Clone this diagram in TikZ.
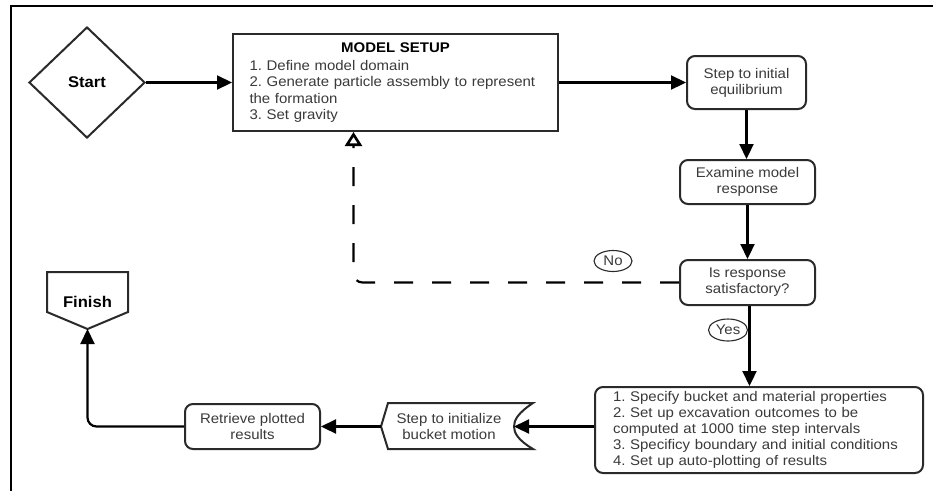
\documentclass[tikz,border=0pt]{standalone}
\usepackage{fontspec}
\setmainfont{Liberation Sans}[FakeStretch=1.07]
\usetikzlibrary{arrows.meta,shapes.geometric}
\definecolor{txtgrey}{HTML}{3A3A3A}
\definecolor{edge}{HTML}{2A2A2A}
\frenchspacing
\begin{document}
\begin{tikzpicture}[x=1pt,y=-1pt,
 every node/.style={font=\fontsize{14}{16}\selectfont},
 box/.style={draw=edge, line width=2pt, rounded corners=8pt, text=txtgrey, align=center, inner sep=0pt},
 plainbox/.style={draw=edge, line width=2pt, text=txtgrey, inner sep=0pt},
 conn/.style={line width=2.2pt, -{Triangle[length=15pt,width=14pt]}},
 tag/.style={draw=edge, ellipse, line width=1.1pt, text=txtgrey, minimum width=38pt, minimum height=21pt, inner sep=0pt},
 shapeline/.style={draw=edge, line width=2pt, line join=miter},
 boldlabel/.style={inner sep=0pt, font=\fontsize{15.5}{17}\selectfont\bfseries}
]
\useasboundingbox (0,0) rectangle (933,491);
\fill[white] (0,0) rectangle (933,491);
% frame
\draw[line width=2.2pt, black] (11,491) -- (11,6) -- (933,6);

% start
\node[draw=edge, diamond, line width=2pt, minimum width=116pt, minimum height=111pt, boldlabel] (start) at (87,82.5) {Start};

% model setup
\node[plainbox, minimum width=325pt, minimum height=97pt, text width=292pt, align=left,
      font=\fontsize{14}{16.4}\selectfont] (setup) at (395.5,82.5)
 {\makebox[\linewidth][c]{\textcolor{black}{\bfseries MODEL SETUP}}\\[1.6pt]
  1. Define model domain\\
  2. Generate particle assembly to represent\\
  the formation\\
  3. Set gravity};

% right column
\node[box, minimum width=119pt, minimum height=53pt] (step1) at (746.5,82.5) {Step to initial\\equilibrium};
\node[box, minimum width=135pt, minimum height=44pt] (exam) at (747.5,182) {Examine model\\response};
\node[box, minimum width=135pt, minimum height=45pt] (sat) at (747.5,282.5) {Is response\\satisfactory?};
\node[box, minimum width=328pt, minimum height=86pt, text width=292pt, align=left] (bot) at (759,430)
 {1. Specify bucket and material properties\\
  2. Set up excavation outcomes to be\\
  computed at 1000 time step intervals\\
  3. Specificy boundary and initial conditions\\
  4. Set up auto-plotting of results};

% step to initialize bucket motion (custom shape)
\coordinate (initL) at (381,426.5);
\coordinate (initR) at (514,426.5);
\draw[shapeline] (388,403) -- (533,403) .. controls (518,413) and (514,420) .. (initR)
  .. controls (514,433) and (518,440) .. (533,449) -- (388,449) -- (initL) -- cycle;
\node[text=txtgrey, align=center, inner sep=0pt] (init) at (449,426.5) {Step to initialize\\bucket motion};

% retrieve
\node[box, minimum width=135pt, minimum height=45pt] (ret) at (252.5,426.5) {Retrieve plotted\\results};

% finish (pentagon pointing down)
\coordinate (finP) at (87.5,329);
\draw[shapeline] (47,272) -- (128,272) -- (128,312) -- (finP) -- (47,312) -- cycle;
\node[boldlabel] (fin) at (87.5,302) {Finish};

% labels
\node[tag] (no) at (613,261) {No};
\node[tag, minimum width=39pt, minimum height=22pt] (yes) at (728,330) {Yes};

% connectors
\draw[conn] (start.east) -- (setup.west);
\draw[conn] (setup.east) -- (step1.west);
\draw[conn] (step1.south) -- (step1.south |- exam.north);
\draw[conn] (exam.south) -- (exam.south |- sat.north);
\draw[conn] ([xshift=2pt]sat.south) -- ([xshift=2pt]sat.south |- bot.north);
\draw[conn] (bot.west |- initR) -- (initR);
\draw[conn] (initL) -- (ret.east);
\draw[line width=2.2pt, rounded corners=9pt, -{Triangle[length=15pt,width=14pt]}] (ret.west) -| (finP);
\draw[line width=2.2pt, dash pattern=on 19pt off 19pt, rounded corners=9pt,
  -{Triangle[open, length=14pt, width=17pt, line width=2.6pt]}]
  (sat.west) -| ([xshift=-42pt]setup.south);
\end{tikzpicture}
\end{document}
